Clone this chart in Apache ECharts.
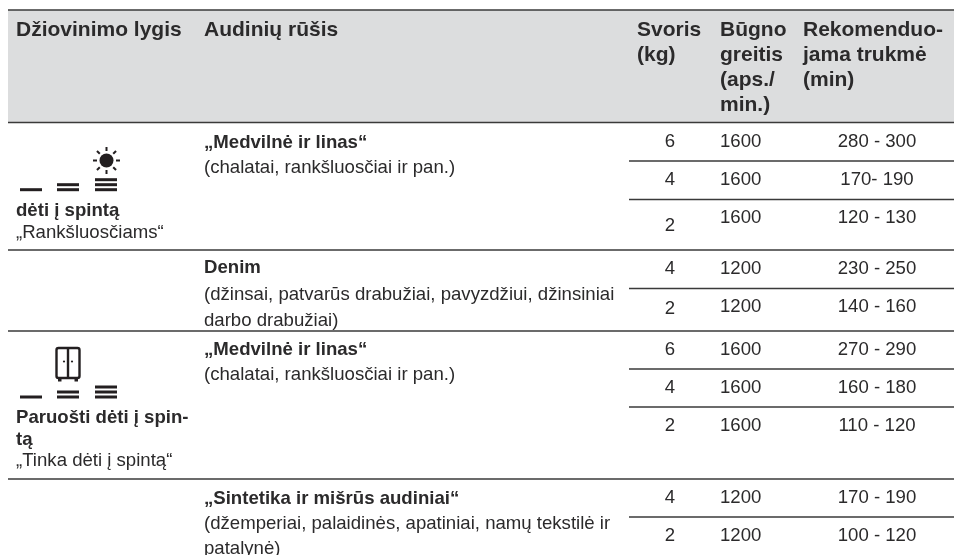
<!DOCTYPE html>
<html>
<head>
<meta charset="utf-8">
<script src="https://cdn.jsdelivr.net/npm/echarts@6/dist/echarts.min.js"></script>
<style>
  html, body { margin: 0; padding: 0; background: #fff; }
  #chart { width: 954px; height: 555px; }
</style>
</head>
<body>
<div id="chart"></div>
<script>
// table content
const weights = ['6', '4', '2', '4', '2', '6', '4', '2', '4', '2'];
const speeds = ['1600', '1600', '1600', '1200', '1200', '1600', '1600', '1600', '1200', '1200'];
const durations = ['280 - 300', '170- 190', '120 - 130', '230 - 250', '140 - 160', '270 - 290', '160 - 180', '110 - 120', '170 - 190', '100 - 120'];
const headers = [
  ['Džiovinimo lygis'],
  ['Audinių rūšis'],
  ['Svoris', '(kg)'],
  ['Būgno', 'greitis', '(aps./', 'min.)'],
  ['Rekomenduo-', 'jama trukmė', '(min)']
];
const fabricTitles = ['„Medvilnė ir linas“', 'Denim', '„Medvilnė ir linas“', '„Sintetika ir mišrūs audiniai“'];
const fabricNotes = [
  ['(chalatai, rankšluosčiai ir pan.)'],
  ['(džinsai, patvarūs drabužiai, pavyzdžiui, džinsiniai', 'darbo drabužiai)'],
  ['(chalatai, rankšluosčiai ir pan.)'],
  ['(džemperiai, palaidinės, apatiniai, namų tekstilė ir', 'patalynė)']
];
const levelTitles = [['dėti į spintą'], ['Paruošti dėti į spin-', 'tą']];
const levelNotes = ['„Rankšluosčiams“', '„Tinka dėti į spintą“'];

// layout, in page pixels
const headerX = [16, 204, 637, 720, 803];
const weightY = [141, 179, 225, 268, 308, 349, 387, 425, 497, 535];
const speedY = [141, 179, 217, 268, 306, 349, 387, 425, 497, 535];
const fabricY = [142, 267, 349, 498];
const fabricGap = [25, 26.5, 25, 25];
const levelY = [210, 417];
const wideRules = [122.5, 250, 331, 479];
const shortRules = [161, 199.5, 288.5, 369, 407, 517];

const TEXT = '#2b2a2b';
const BOLD = 'bold 21px "Liberation Sans", Arial, sans-serif';
const PLAIN = '18.6px "Liberation Sans", Arial, sans-serif';
const SMALL_BOLD = 'bold 18.6px "Liberation Sans", Arial, sans-serif';

function label(api, x, y, text, font, align) {
  const p = api.coord([x, y]);
  return {
    type: 'text',
    style: { x: p[0], y: p[1] + 1, text: text, font: font, fill: TEXT, align: align || 'left', verticalAlign: 'middle' }
  };
}

function bar(api, x, y) {
  const p = api.coord([x, y]);
  return { type: 'rect', shape: { x: p[0], y: p[1] - 1.5, width: 22, height: 3 }, style: { fill: '#231f20' } };
}

function rule(api, x0, y, w) {
  const a = api.coord([x0, y]);
  const b = api.coord([954, y]);
  return { type: 'line', shape: { x1: a[0], y1: a[1], x2: b[0], y2: b[1] }, style: { stroke: '#3a3a3a', lineWidth: w } };
}

function dryBars(api, y) {
  return [
    bar(api, 20, y),
    bar(api, 57, y - 5), bar(api, 57, y),
    bar(api, 95, y - 10), bar(api, 95, y - 5), bar(api, 95, y)
  ];
}

function sunIcon(api, cx, cy) {
  const c = api.coord([cx, cy]);
  const out = [{ type: 'circle', shape: { cx: c[0], cy: c[1], r: 7 }, style: { fill: '#231f20' } }];
  for (let i = 0; i < 8; i++) {
    const a = i * Math.PI / 4;
    out.push({
      type: 'line',
      shape: { x1: c[0] + 9.5 * Math.cos(a), y1: c[1] + 9.5 * Math.sin(a), x2: c[0] + 13.5 * Math.cos(a), y2: c[1] + 13.5 * Math.sin(a) },
      style: { stroke: '#231f20', lineWidth: 2 }
    });
  }
  return out;
}

function wardrobeIcon(api, x, y) {
  const p = api.coord([x, y]);
  const stroke = { stroke: '#231f20', lineWidth: 2.4, fill: 'none' };
  return [
    { type: 'rect', shape: { x: p[0], y: p[1], width: 23, height: 30, r: 2 }, style: stroke },
    { type: 'line', shape: { x1: p[0] + 11.5, y1: p[1], x2: p[0] + 11.5, y2: p[1] + 30 }, style: stroke },
    { type: 'rect', shape: { x: p[0] + 1.5, y: p[1] + 30, width: 3.5, height: 3.5 }, style: { fill: '#231f20' } },
    { type: 'rect', shape: { x: p[0] + 18, y: p[1] + 30, width: 3.5, height: 3.5 }, style: { fill: '#231f20' } },
    { type: 'circle', shape: { cx: p[0] + 7.5, cy: p[1] + 13.5, r: 1.1 }, style: { fill: '#231f20' } },
    { type: 'circle', shape: { cx: p[0] + 15.5, cy: p[1] + 13.5, r: 1.1 }, style: { fill: '#231f20' } }
  ];
}

function renderHeader(params, api) {
  const a = api.coord([8, 10]);
  const b = api.coord([954, 122.5]);
  const children = [
    { type: 'rect', shape: { x: a[0], y: a[1], width: b[0] - a[0], height: b[1] - a[1] }, style: { fill: '#dcddde' } },
    rule(api, 8, 10, 1.5)
  ];
  headers.forEach((lines, c) => {
    lines.forEach((t, i) => children.push(label(api, headerX[c], 29 + i * 25, t, BOLD)));
  });
  return { type: 'group', children: children };
}

function renderRow(params, api) {
  const i = params.dataIndex;
  return {
    type: 'group',
    children: [
      label(api, 670, weightY[i], weights[i], PLAIN, 'center'),
      label(api, 720, speedY[i], speeds[i], PLAIN),
      label(api, 877, speedY[i], durations[i], PLAIN, 'center')
    ]
  };
}

function renderFabric(params, api) {
  const i = params.dataIndex;
  const children = [label(api, 204, fabricY[i], fabricTitles[i], SMALL_BOLD)];
  fabricNotes[i].forEach((t, k) => children.push(label(api, 204, fabricY[i] + (k + 1) * fabricGap[i], t, PLAIN)));
  return { type: 'group', children: children };
}

function renderLevel(params, api) {
  const i = params.dataIndex;
  const children = [];
  levelTitles[i].forEach((t, k) => children.push(label(api, 16, levelY[i] + k * 21.5, t, SMALL_BOLD)));
  children.push(label(api, 16, levelY[i] + levelTitles[i].length * 21.5, levelNotes[i], PLAIN));
  return { type: 'group', children: children };
}

function renderRules(params, api) {
  const children = [];
  wideRules.forEach(y => children.push(rule(api, 8, y, 1.5)));
  shortRules.forEach(y => children.push(rule(api, 629, y, 1.5)));
  return { type: 'group', children: children };
}

function renderIcons(params, api) {
  return {
    type: 'group',
    children: []
      .concat(sunIcon(api, 106.5, 160.5))
      .concat(dryBars(api, 189.7))
      .concat(wardrobeIcon(api, 56.5, 348))
      .concat(dryBars(api, 397))
  };
}

function customSeries(renderItem, count) {
  return {
    type: 'custom',
    coordinateSystem: 'cartesian2d',
    renderItem: renderItem,
    data: Array.from({ length: count }, (_, i) => [i, i]),
    silent: true,
    clip: false,
    animation: false
  };
}

const myChart = echarts.init(document.getElementById('chart'), null, { renderer: 'canvas' });
myChart.setOption({
  animation: false,
  grid: { left: 0, right: 0, top: 0, bottom: 0 },
  xAxis: { type: 'value', min: 0, max: 954, show: false },
  yAxis: { type: 'value', min: 0, max: 555, inverse: true, show: false },
  series: [
    customSeries(renderHeader, 1),
    customSeries(renderRules, 1),
    customSeries(renderRow, weights.length),
    customSeries(renderFabric, fabricTitles.length),
    customSeries(renderLevel, levelTitles.length),
    customSeries(renderIcons, 1)
  ]
});
</script>
</body>
</html>
